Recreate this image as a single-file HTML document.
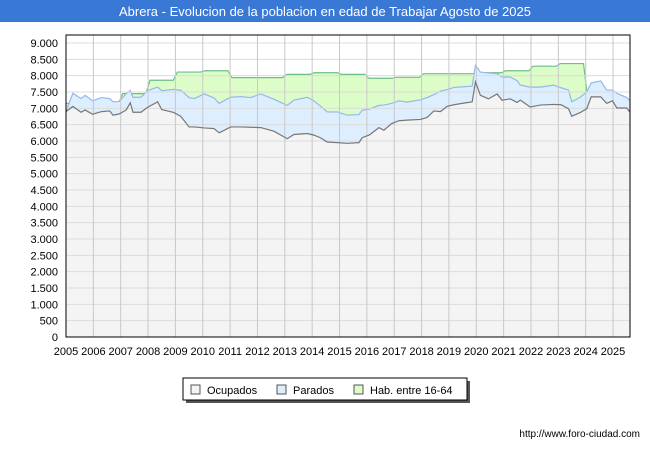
<!DOCTYPE html>
<html><head><meta charset="utf-8"><style>
body{margin:0;background:#fff;font-family:"Liberation Sans",sans-serif;}
#wrap{position:relative;width:650px;height:450px;overflow:hidden;}
</style></head><body>
<div id="wrap">
<svg id="svg" width="650" height="450" xmlns="http://www.w3.org/2000/svg">
<rect x="0" y="0" width="650" height="22" fill="#3a78d6"/>
<text x="325" y="16" text-anchor="middle" font-size="13" fill="#fff" font-family="Liberation Sans, sans-serif">Abrera - Evolucion de la poblacion en edad de Trabajar Agosto de 2025</text>
<g id="plot"></g>
<g>
<rect x="186" y="381" width="284" height="22" fill="#555"/>
<rect x="183" y="378" width="284" height="22" fill="#fff" stroke="#000" stroke-width="1"/>
<rect x="191" y="385" width="9" height="9" fill="#f4f4f4" stroke="#555"/>
<text x="207" y="394" font-size="11" font-family="Liberation Sans, sans-serif">Ocupados</text>
<rect x="277" y="385" width="9" height="9" fill="#ddeeff" stroke="#555"/>
<text x="293" y="394" font-size="11" font-family="Liberation Sans, sans-serif">Parados</text>
<rect x="354" y="385" width="9" height="9" fill="#ddfdc8" stroke="#555"/>
<text x="370" y="394" font-size="11" font-family="Liberation Sans, sans-serif">Hab. entre 16-64</text>
</g>
<text x="640" y="437" text-anchor="end" font-size="10" font-family="Liberation Sans, sans-serif">http://www.foro-ciudad.com</text>
</svg>
</div>
<script>
const times=[2005.0,2005.25,2005.55,2005.7,2005.97,2006.3,2006.6,2006.72,2006.95,2007.2,2007.35,2007.45,2007.74,2007.98,2008.35,2008.5,2008.71,2008.95,2009.2,2009.5,2009.7,2010.05,2010.41,2010.6,2011.02,2011.39,2011.75,2012.12,2012.6,2013.09,2013.33,2013.82,2014.06,2014.3,2014.55,2014.92,2015.28,2015.71,2015.83,2016.1,2016.44,2016.62,2016.9,2017.17,2017.47,2017.96,2018.2,2018.45,2018.69,2018.93,2019.18,2019.54,2019.85,2019.97,2020.15,2020.45,2020.76,2020.94,2021.24,2021.49,2021.61,2021.97,2022.34,2022.83,2023.1,2023.37,2023.49,2023.8,2024.04,2024.2,2024.55,2024.77,2024.98,2025.14,2025.5,2025.62];
const ocupados=[6900,7060,6880,6950,6820,6900,6920,6790,6830,6950,7170,6880,6880,7030,7200,6960,6920,6870,6750,6430,6430,6400,6380,6250,6430,6430,6420,6410,6300,6070,6200,6230,6180,6100,5970,5950,5930,5950,6100,6190,6410,6330,6530,6620,6640,6660,6720,6920,6900,7060,7110,7160,7200,7810,7400,7290,7440,7250,7290,7180,7250,7040,7100,7120,7110,6990,6760,6870,6990,7350,7350,7150,7230,7010,7010,6880];
const parados=[0,400,420,450,410,430,380,410,380,500,380,460,460,510,450,580,640,710,800,900,870,1040,940,900,910,930,910,1030,980,1020,1050,1110,1050,970,920,940,860,860,840,790,680,770,620,610,550,600,610,500,630,510,530,500,480,510,710,790,620,710,670,670,460,610,550,590,520,570,440,470,510,430,490,410,330,450,320,350];
const habYears=[2005,2006,2007,2008,2009,2010,2011,2012,2013,2014,2015,2016,2017,2018,2019,2020,2021,2022,2023,2024,2025];
const habValues=[7150,7150,7450,7860,8110,8150,7940,7940,8040,8090,8040,7920,7950,8060,8060,8090,8150,8290,8370,7300,7200];
const yTicks=[0,500,1000,1500,2000,2500,3000,3500,4000,4500,5000,5500,6000,6500,7000,7500,8000,8500,9000];
const yTickLabels=["0","500","1.000","1.500","2.000","2.500","3.000","3.500","4.000","4.500","5.000","5.500","6.000","6.500","7.000","7.500","8.000","8.500","9.000"];
const xYears=[2005,2006,2007,2008,2009,2010,2011,2012,2013,2014,2015,2016,2017,2018,2019,2020,2021,2022,2023,2024,2025];

const L=66,R=630,T=35,B=337,tEnd=2025.62;
const xs=t=>L+(t-2005)*(R-L)/(tEnd-2005);
const ys=v=>B-v*(B-43)/9000;
const NS="http://www.w3.org/2000/svg";
const plot=document.getElementById('plot');
function mk(tag,attrs){const e=document.createElementNS(NS,tag);for(const k in attrs)e.setAttribute(k,attrs[k]);plot.appendChild(e);return e;}

const bg=mk('rect',{x:L,y:T,width:R-L,height:B-T,fill:'#fff'});



// hab step
let hp=[];
habYears.forEach((y,i)=>{const x0=xs(Math.max(y,2005)),x1=xs(Math.min(y+0.92,tEnd));hp.push([x0+(i?2:0),ys(habValues[i])]);hp.push([x1,ys(habValues[i])]);});
const habLine=hp.map(p=>p.join(',')).join(' ');
const habArea=mk('polygon',{points:`${L},${B} `+habLine+` ${R},${B}`,fill:'#ddfdc8'});


const habL=mk('polyline',{points:habLine,fill:'none',stroke:'#6cbf88','stroke-width':1.2});



const totPts=times.map((t,i)=>xs(t)+','+ys(ocupados[i]+parados[i])).join(' ');
const totArea=mk('polygon',{points:`${L},${B} `+totPts+` ${R},${B}`,fill:'#ddeeff'});


const totL=mk('polyline',{points:totPts,fill:'none',stroke:'#94b8ea','stroke-width':1.2});



const occPts=times.map((t,i)=>xs(t)+','+ys(ocupados[i])).join(' ');
const occArea=mk('polygon',{points:`${L},${B} `+occPts+` ${R},${B}`,fill:'#f4f4f4'});



yTicks.forEach((v,i)=>{
 const g=mk('line',{x1:L,x2:R,y1:ys(v),y2:ys(v),stroke:'#dcdcdc','stroke-width':1});
 
 
 const tx=mk('text',{x:58,y:ys(v)+4,'text-anchor':'end','font-size':11,'font-family':'Liberation Sans, sans-serif'});
 tx.textContent=yTickLabels[i];
 
 
});
xYears.forEach(y=>{
 if(y>2005){const g=mk('line',{x1:xs(y),x2:xs(y),y1:T,y2:B,stroke:'#c8c8c8','stroke-width':1});
 
 }
 const tx=mk('text',{x:xs(y),y:355,'text-anchor':'middle','font-size':11,'font-family':'Liberation Sans, sans-serif'});
 tx.textContent=String(y);
 
 
});
const occL=mk('polyline',{points:occPts,fill:'none',stroke:'#777','stroke-width':1.2});


const fr=mk('rect',{x:L,y:T,width:R-L,height:B-T,fill:'none',stroke:'#000','stroke-width':1});


</script>
</body></html>
